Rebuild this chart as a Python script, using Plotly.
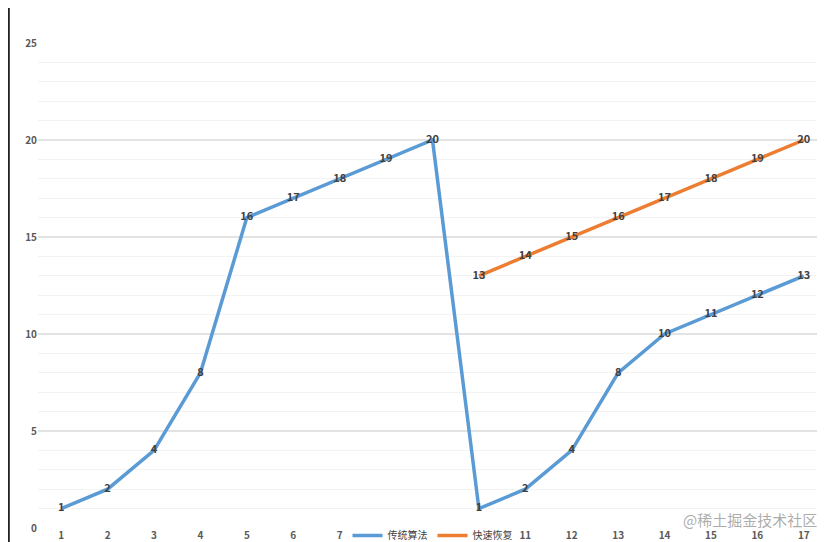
import plotly.graph_objects as go

x_all = list(range(1, 18))
traditional = [1, 2, 4, 8, 16, 17, 18, 19, 20, 1, 2, 4, 8, 10, 11, 12, 13]
x_fast = list(range(10, 18))
fast = [13, 14, 15, 16, 17, 18, 19, 20]

lbl_font = dict(size=11, color="#404040", family="Noto Sans CJK SC", weight="bold")
fig = go.Figure()
fig.add_trace(go.Scatter(x=x_all, y=traditional, name="传统算法", mode="lines+text",
    line=dict(color="#5b9bd5", width=3.5), text=[str(v) for v in traditional],
    textposition="middle center", textfont=lbl_font))
fig.add_trace(go.Scatter(x=x_fast, y=fast, name="快速恢复", mode="lines+text",
    line=dict(color="#ed7d31", width=3.5), text=[str(v) for v in fast],
    textposition="middle center", textfont=lbl_font))

fig.update_layout(
    width=825, height=542, paper_bgcolor="white", plot_bgcolor="white",
    margin=dict(l=30, r=6, t=35, b=22, autoexpand=False),
    font=dict(family="Noto Sans CJK SC", size=10, color="#595959"),
    legend=dict(orientation="h", x=0.5, xanchor="center", y=542-6, yref="container", yanchor="top",
                font=dict(size=10, color="#404040")),
    xaxis=dict(range=[0.5, 17.5], tickmode="array", tickvals=x_all, showgrid=False, automargin=False,
               zeroline=False, showline=False, ticks="", tickfont=dict(size=10, color="#595959", weight="bold")),
    yaxis=dict(range=[0, 25], tickvals=[0, 5, 10, 15, 20, 25], showgrid=True, gridcolor="#e3e3e3",
               gridwidth=1.5, zeroline=False, ticks="", automargin=False,
               minor=dict(dtick=1, showgrid=True, gridcolor="#f3f3f3", gridwidth=1),
               tickfont=dict(size=10, color="#595959", weight="bold")),
    annotations=[dict(text="@稀土掘金技术社区", x=1, y=0, xref="paper", yref="paper",
                      xanchor="right", yanchor="bottom", yshift=-4, xshift=-8, showarrow=False,
                      font=dict(size=15, color="rgba(150,150,150,0.8)"))],
    shapes=[dict(type="line", xref="paper", yref="paper", x0=-0.037, x1=-0.037, y0=-0.05, y1=1.08,
                 line=dict(color="#222", width=2))],
)
fig.write_html("out.html")
